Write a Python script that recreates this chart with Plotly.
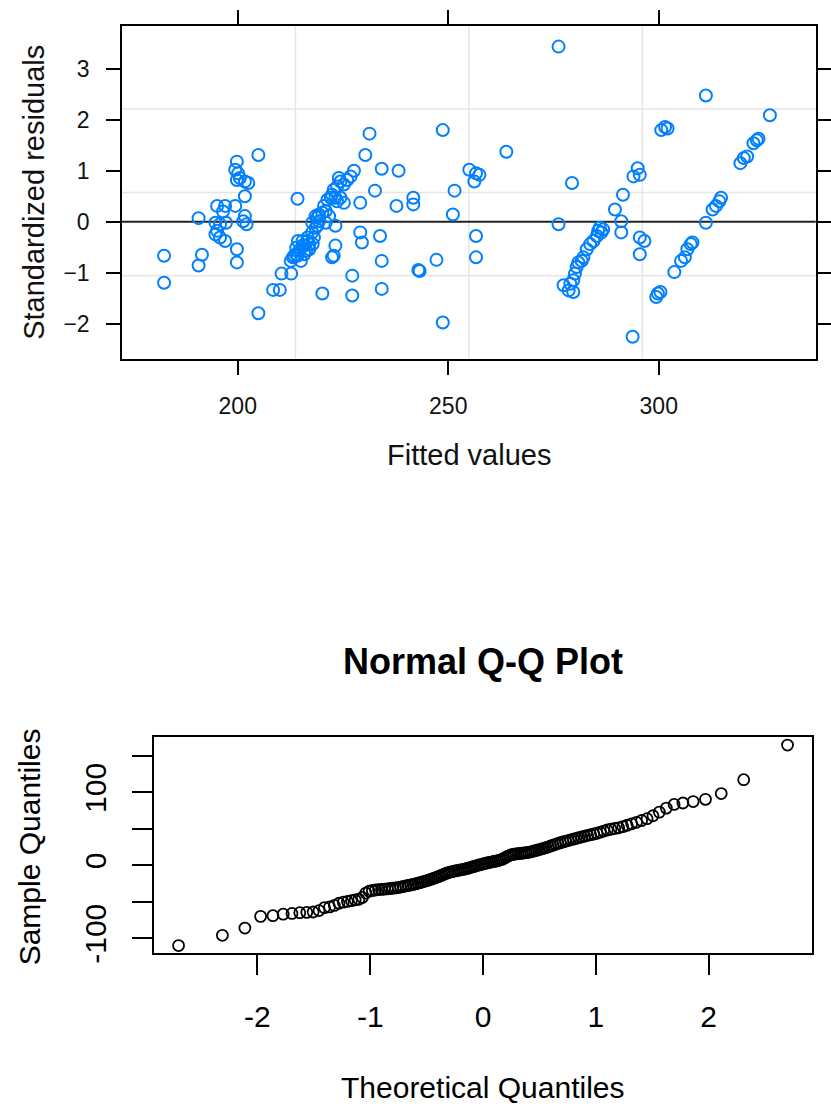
import plotly.graph_objects as go
from statistics import NormalDist

# ---------------- data: residuals vs fitted (top panel) ----------------
fitted = [
    182.5, 182.5, 190.7, 191.5, 190.7, 195.1, 197.0, 199.4, 196.5, 194.7, 195.8, 197.2,
    194.7, 195.8, 195.1, 197.0, 199.8, 199.4, 200.1, 200.5, 199.8, 201.7, 202.5, 201.7,
    201.7, 202.1, 201.3, 199.8, 199.8, 204.9, 204.9,
    208.4, 210.0, 210.4, 212.7, 212.6, 213.1, 213.4, 214.2, 215.0, 213.9, 215.8, 214.6,
    216.3, 217.0, 213.9, 215.4, 215.8, 217.0, 217.8, 214.3, 215.4, 216.6, 216.6, 218.1,
    217.7, 218.5, 218.9, 217.7, 219.3, 220.9, 218.9, 218.5, 221.7, 219.3, 220.1, 220.9,
    220.5, 221.3, 222.1, 222.4, 222.8, 223.6, 225.2, 224.4, 226.0, 224.0, 226.8, 227.6,
    223.2, 223.6, 224.4,
    214.2, 231.3, 230.3, 234.2, 238.2, 232.6, 229.1, 225.2, 223.2, 229.1, 229.5, 233.8,
    223.2, 222.8, 222.4, 234.2, 227.2, 220.1, 227.2, 234.2,
    237.7, 241.7, 241.7, 242.9, 243.2, 247.2, 248.7, 248.7, 251.5, 251.1, 255.0, 256.6,
    257.4, 256.2, 256.6, 256.6, 263.8,
    276.2, 279.4, 276.2,
    277.4, 278.6, 279.7, 279.0, 279.7, 280.1, 280.5, 280.9, 281.7, 282.1, 282.9, 283.7,
    284.5, 285.3, 285.6, 286.0, 286.8, 286.4,
    289.6, 291.5, 291.1, 291.1, 294.0, 295.0, 295.5, 295.5, 296.6, 295.5, 293.8,
    300.6, 301.5, 302.1, 299.8, 300.4, 299.4,
    303.7, 305.3, 306.2, 306.8, 307.6, 308.0,
    311.2, 311.2, 312.8, 313.6, 314.4, 314.8,
    319.4, 320.2, 321.0, 322.5, 323.3, 323.7, 326.4,
]
std_resid = [
    -0.67, -1.20, 0.07, -0.65, -0.86, 0.31, 0.31, 0.31, 0.20, -0.02, -0.05, -0.02,
    -0.25, -0.31, -0.18, -0.38, 1.18, 1.02, 0.95, 0.86, 0.82, 0.79, 0.76, 0.50,
    0.11, -0.05, 0.01, -0.54, -0.80, 1.31, -1.80,
    -1.34, -1.34, -1.02, -1.02, -0.77, -0.70, -0.67, -0.67, -0.77, -0.64, -0.64, -0.57,
    -0.57, -0.54, -0.51, -0.47, -0.47, -0.44, -0.44, -0.38, -0.38, -0.38, -0.31, -0.31,
    -0.21, -0.12, -0.08, -0.02, 0.01, -0.02, 0.08, 0.11, 0.11, 0.14, 0.175, 0.21,
    0.31, 0.43, 0.47, 0.53, 0.63, 0.69, 0.73, 0.79, 0.82, 0.86, 0.89, 1.00,
    0.47, 0.40, 0.47,
    0.45, 1.73, 1.31, 1.04, 1.00, 0.61, 0.37, 0.37, -0.08, -0.21, -0.41, -0.28,
    -0.47, -0.67, -0.70, -0.77, -1.06, -1.41, -1.45, -1.32,
    0.31, 0.47, 0.34, -0.95, -0.97, -0.75, 1.80, -1.98, 0.61, 0.14, 1.02, 0.95,
    0.92, 0.79, -0.28, -0.70, 1.375,
    3.44, 0.76, -0.05,
    -1.25, -1.35, -1.38, -1.22, -1.15, -1.02, -0.89, -0.80, -0.77, -0.70, -0.54, -0.44,
    -0.38, -0.28, -0.18, -0.12, -0.15, -0.21,
    0.24, 0.53, 0.01, -0.21, 0.89, 1.05, 0.92, -0.31, -0.38, -0.64, -2.26,
    1.80, 1.86, 1.83, -1.41, -1.38, -1.48,
    -0.99, -0.77, -0.70, -0.54, -0.44, -0.41,
    2.48, -0.02, 0.24, 0.31, 0.40, 0.47,
    1.15, 1.25, 1.28, 1.54, 1.60, 1.63, 2.09,
]

# ---------------- data: sorted sample quantiles (bottom panel) ----------------
sample_quantiles = [
    -110, -96, -86, -70, -69, -67, -66, -65, -64.5, -64, -62, -58,
    -57, -55, -52, -50.5, -49.5, -48.5, -47.5, -46.5, -44, -38, -35.5, -34.5,
    -33.8, -33.2, -33, -32.6, -32.2, -31.8, -31.4, -31, -30.5, -29.8, -29, -28.3,
    -27.6, -27, -26.3, -25.5, -24.6, -23.7, -22.8, -21.9, -21, -20, -19, -18,
    -17, -15.8, -14.6, -13.4, -12.2, -11, -10, -9.2, -8.5, -7.9, -7.3, -6.8,
    -6.3, -5.8, -5.2, -4.5, -3.8, -3, -2.2, -1.4, -0.6, 0.2, 0.9, 1.6,
    2.3, 3, 3.6, 4.2, 4.8, 5.3, 5.8, 6.4, 7.2, 8.2, 9.5, 11,
    12.5, 13.8, 14.6, 15.2, 15.6, 16, 16.3, 16.6, 17, 17.4, 17.9, 18.5,
    19.2, 20, 20.8, 21.6, 22.5, 23.4, 24.3, 25.4, 26.5, 27.6, 28.8, 30,
    31, 32, 33, 34, 35, 36, 37, 38, 39, 40, 41, 42,
    43, 44, 45.5, 47, 48.5, 49.5, 50.5, 51.5, 53, 55, 57, 59,
    61.5, 64, 68, 73, 78.5, 83.5, 85.5, 87.5, 90.5, 98.5, 117.5, 165,
]

top_xticks = [200, 250, 300]
top_yticks = [-2, -1, 0, 1, 2, 3]
qq_xticks = [-2, -1, 0, 1, 2]
qq_yticks = [-100, -50, 0, 50, 100, 150]
qq_yticktext = ["-100", "", "0", "", "100", ""]

# theoretical quantiles as computed by qqnorm (ppoints)
n = len(sample_quantiles)
a = 0.5 if n > 10 else 3 / 8
theoretical = [NormalDist().inv_cdf((i + 1 - a) / (n + 1 - 2 * a)) for i in range(n)]

# ---------------- figure ----------------
W, H = 831, 1117
FONT = "Liberation Sans, Arial, sans-serif"
X_RANGE = [172.5, 337.3]
Y_RANGE = [-2.70, 3.85]

fig = go.Figure()
fig.add_trace(go.Scatter(
    x=fitted, y=std_resid, mode="markers", xaxis="x", yaxis="y",
    marker=dict(symbol="circle-open", size=12, color="#0080ff",
                line=dict(width=2, color="#0080ff")),
    showlegend=False, hoverinfo="x+y"))
fig.add_trace(go.Scatter(
    x=theoretical, y=sorted(sample_quantiles), mode="markers", xaxis="x2", yaxis="y2",
    marker=dict(symbol="circle-open", size=11, color="black",
                line=dict(width=1.8, color="black")),
    showlegend=False, hoverinfo="x+y"))

def px2x(px):
    return px / W

def px2y(py):
    return 1 - py / H

axis_common = dict(showgrid=False, zeroline=False, showline=True, linecolor="black",
                   linewidth=1.5, ticks="outside", tickcolor="black", tickwidth=1.5,
                   mirror="ticks")

fig.update_layout(
    width=W, height=H, margin=dict(l=0, r=0, t=0, b=0),
    paper_bgcolor="white", plot_bgcolor="white",
    font=dict(family=FONT, color="black"),
    xaxis=dict(domain=[px2x(123), px2x(822.7)], range=X_RANGE, anchor="y",
               tickvals=top_xticks, ticklen=14, ticklabelstandoff=12,
               tickfont=dict(size=23, family=FONT, color="#111"), **axis_common),
    yaxis=dict(domain=[px2y(362.7), px2y(26)], range=Y_RANGE, anchor="x",
               tickvals=top_yticks, ticklen=14, ticklabelstandoff=12,
               tickfont=dict(size=23, family=FONT, color="#111"), **axis_common),
    xaxis2=dict(domain=[px2x(155), px2x(819.3)], range=[-2.92, 2.92], anchor="y2",
                tickvals=qq_xticks, ticktext=[str(v) for v in qq_xticks], ticklen=20,
                ticklabelstandoff=16, tickfont=dict(size=30, family=FONT),
                showgrid=False, zeroline=False, showline=True, linecolor="black",
                linewidth=1.5, ticks="outside", tickcolor="black", tickwidth=1.5,
                mirror=True),
    yaxis2=dict(domain=[px2y(962.3), px2y(744)], range=[-120, 176.5], anchor="x2",
                tickvals=qq_yticks, ticktext=qq_yticktext, ticklen=20, tickangle=-90,
                ticklabelstandoff=14, tickfont=dict(size=30, family=FONT),
                showgrid=False, zeroline=False, showline=True, linecolor="black",
                linewidth=1.5, ticks="outside", tickcolor="black", tickwidth=1.5,
                mirror=True),
)

# lattice-style reference grid (3 equally spaced lines each way) and zero line
shapes = []
for k in (1, 2, 3):
    gx = X_RANGE[0] + k * (X_RANGE[1] - X_RANGE[0]) / 4
    gy = Y_RANGE[0] + k * (Y_RANGE[1] - Y_RANGE[0]) / 4
    shapes.append(dict(type="line", xref="x", yref="y domain", x0=gx, x1=gx, y0=0, y1=1,
                       line=dict(color="#e6e6e6", width=1.5), layer="below"))
    shapes.append(dict(type="line", xref="x domain", yref="y", x0=0, x1=1, y0=gy, y1=gy,
                       line=dict(color="#e6e6e6", width=1.5), layer="below"))
shapes.append(dict(type="line", xref="x domain", yref="y", x0=0, x1=1, y0=0, y1=0,
                   line=dict(color="#222", width=2), layer="below"))
fig.update_layout(shapes=shapes)

ann = [
    dict(text="Standardized residuals", x=px2x(34), y=px2y(194), textangle=-90,
         font=dict(size=29, family=FONT, color="#111")),
    dict(text="Fitted values", x=px2x(473), y=px2y(460),
         font=dict(size=29, family=FONT, color="#111")),
    dict(text="<b>Normal Q-Q Plot</b>", x=px2x(487), y=px2y(668),
         font=dict(size=36, family=FONT, color="black")),
    dict(text="Sample Quantiles", x=px2x(30), y=px2y(855), textangle=-90,
         font=dict(size=30, family=FONT, color="black")),
    dict(text="Theoretical Quantiles", x=px2x(487), y=px2y(1098),
         font=dict(size=30, family=FONT, color="black")),
]
for a_ in ann:
    a_.update(xref="paper", yref="paper", showarrow=False, xanchor="center", yanchor="middle")
fig.update_layout(annotations=ann)

fig.write_html("out.html")
